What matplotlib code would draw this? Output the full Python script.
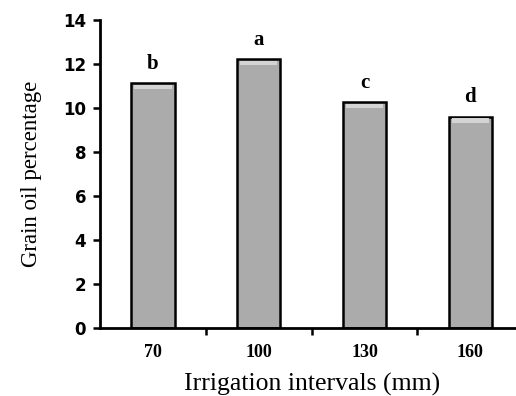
import matplotlib
matplotlib.use("Agg")
import matplotlib.pyplot as plt

# データ
intervals = ["70", "100", "130", "160"]
oil_pct = [11.12, 12.21, 10.28, 9.60]
letters = ["b", "a", "c", "d"]

fig = plt.figure(figsize=(5.16, 3.96), dpi=100)
ax = fig.add_axes([0.194, 0.1725, 0.82, 0.777])

x = list(range(len(intervals)))
ax.bar(x, oil_pct, width=0.41, color="#ababab",
       edgecolor="black", linewidth=1.8, zorder=2)

# 上端のハイライト（立体感）
for xi, v in zip(x, oil_pct):
    ax.bar(xi, 0.2, bottom=v - 0.28, width=0.35, color="#d4d4d4",
           linewidth=0, zorder=3)

for xi, v, s in zip(x, oil_pct, letters):
    ax.text(xi, v + 0.42, s, ha="center", va="bottom",
            family="Liberation Serif", fontweight="bold", fontsize=15)

ax.set_xlim(-0.5, 3.5)
ax.set_ylim(0, 14)
ax.set_yticks(range(0, 15, 2))
ax.set_xticks(x)
ax.set_xticklabels(intervals)
ax.set_xticks([0.5, 1.5, 2.5], minor=True)

ax.tick_params(axis="x", which="major", length=0, pad=12)
ax.tick_params(axis="x", which="minor", length=5, width=1.8, direction="out")
ax.tick_params(axis="y", length=5, width=1.8, direction="out", pad=5)

for lab in ax.get_yticklabels():
    lab.set_fontweight("bold")
    lab.set_fontsize(12)
for lab in ax.get_xticklabels():
    lab.set_fontweight("bold")
    lab.set_fontsize(13)
    lab.set_family("Liberation Serif")

for side in ["top", "right"]:
    ax.spines[side].set_visible(False)
for side in ["left", "bottom"]:
    ax.spines[side].set_linewidth(2)

ax.set_xlabel("Irrigation intervals (mm)", family="Liberation Serif",
              fontsize=18.5, labelpad=8)
ax.set_ylabel("Grain oil percentage", family="Liberation Serif",
              fontsize=16.5, labelpad=15)

fig.savefig("out.png", dpi=100)
